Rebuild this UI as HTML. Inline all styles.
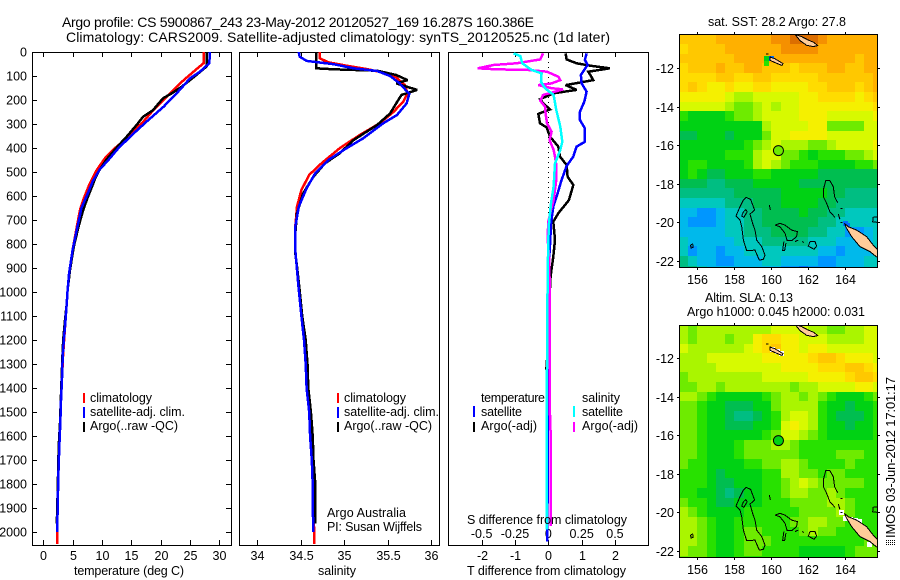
<!DOCTYPE html>
<html>
<head>
<meta charset="utf-8">
<title>Argo profile 5900867_243</title>
<style>
html,body{margin:0;padding:0;background:#fff;}
svg{display:block;font-family:"Liberation Sans",sans-serif;font-size:12.5px;fill:#000;}
text{fill:#000;}
</style>
</head>
<body>
<svg id="chart" xmlns="http://www.w3.org/2000/svg" width="900" height="580" viewBox="0 0 900 580">
<rect x="0" y="0" width="900" height="580" fill="#fff"/>
<g id="marks"></g>

<text x="62" y="27" font-size="14" textLength="472">Argo profile: CS 5900867_243 23-May-2012 20120527_169 16.287S 160.386E</text>
<text x="66" y="42" font-size="14" textLength="544">Climatology: CARS2009. Satellite-adjusted climatology: synTS_20120525.nc (1d later)</text>

<text x="74" y="575" textLength="110">temperature (deg C)</text>
<text x="318" y="575" textLength="38">salinity</text>
<text x="467" y="575" textLength="159">T difference from climatology</text>
<text x="467" y="524" textLength="160">S difference from climatology</text>

<text x="90" y="402" textLength="62">climatology</text>
<text x="90" y="416" textLength="95">satellite-adj. clim.</text>
<text x="90" y="430" textLength="88">Argo(..raw -QC)</text>
<rect x="83" y="393" width="2" height="10" fill="#f00"/>
<rect x="83" y="407" width="2" height="11" fill="#00f"/>
<rect x="83" y="422" width="2" height="10" fill="#000"/>

<text x="344" y="402" textLength="62">climatology</text>
<text x="344" y="416" textLength="95">satellite-adj. clim.</text>
<text x="344" y="430" textLength="88">Argo(..raw -QC)</text>
<rect x="337" y="393" width="2" height="10" fill="#f00"/>
<rect x="337" y="407" width="2" height="11" fill="#00f"/>
<rect x="337" y="422" width="2" height="10" fill="#000"/>

<text x="327" y="517" textLength="79">Argo Australia</text>
<text x="327" y="531" textLength="95">PI: Susan Wijffels</text>

<text x="481" y="402" textLength="64">temperature</text>
<text x="481" y="416" textLength="41">satellite</text>
<text x="481" y="430" textLength="56">Argo(-adj)</text>
<rect x="473" y="406" width="2" height="11" fill="#00f"/>
<rect x="473" y="422" width="2" height="10" fill="#000"/>
<text x="582" y="402" textLength="38">salinity</text>
<text x="582" y="416" textLength="41">satellite</text>
<text x="582" y="430" textLength="56">Argo(-adj)</text>
<rect x="573" y="406" width="2" height="11" fill="#0ff"/>
<rect x="573" y="422" width="2" height="10" fill="#f0f"/>

<text x="708" y="26" textLength="138">sat. SST: 28.2 Argo: 27.8</text>
<text x="705" y="302" textLength="88">Altim. SLA: 0.13</text>
<text x="687" y="316" textLength="178">Argo h1000: 0.045 h2000: 0.031</text>

<text transform="translate(895,538) rotate(-90)" x="0" y="0" font-size="13" textLength="161">IMOS 03-Jun-2012 17:01:17</text>
<g stroke="#000" stroke-width="1" stroke-dasharray="1 1" shape-rendering="crispEdges">
<line x1="886" y1="540.5" x2="895" y2="540.5"/>
<line x1="886" y1="542.5" x2="895" y2="542.5"/>
<line x1="886" y1="544.5" x2="895" y2="544.5"/>
</g>
</svg>

<script>
// ---------- Tick labels ----------
const depthTicks = [0,100,200,300,400,500,600,700,800,900,1000,1100,1200,1300,1400,1500,1600,1700,1800,1900,2000];
const temperatureTicks = [0,5,10,15,20,25,30];
const salinityTicks = [34,34.5,35,35.5,36];
const tDiffTicks = [-2,-1,0,1,2];
const tDiffTickLabels = ["-2","-1","0","1","2"];
const sDiffTicks = [-0.5,-0.25,0,0.25,0.5];
const sDiffTickLabels = ["-0.5","-0.25","0","0.25","0.5"];
const lonTicks = [156,158,160,162,164];
const latTicks = [12,14,16,18,20,22];

// ---------- Temperature profiles ----------
const climTempDepth = [0,47,82,124,172,200,242,297,353,401,443,492,525,561,610,658,742,825,922,992,1050,1130,1200,1270,1350,1463,1547,1644,1769,1894,2000,2050];
const climTempValues = [27.3,27.3,25.6,23.6,21.6,20.5,18.75,16.8,14.5,12.2,10.5,9.1,8.4,7.7,6.9,6.25,5.6,5,4.4,4.15,3.98,3.75,3.55,3.35,3.2,3,2.9,2.72,2.5,2.42,2.35,2.35];
const argoTempDepth = [0,60,96,144,172,193,242,270,304,353,401,450,499,530,568,610,658,728,811,908,992,1050,1130,1200,1270,1350,1463,1547,1644,1769,1894,1964];
const argoTempValues = [27.85,27.85,26.1,23.6,21.9,20.4,18.7,17,15.9,14.2,12.4,10.7,9.4,8.8,8.2,7.5,6.8,6,5.2,4.55,4.15,3.98,3.65,3.4,3.25,3.13,2.96,2.85,2.62,2.5,2.39,2.3];
const satTempDepth = [0,47,82,110,165,228,290,346,401,450,490,540,582,651,742,825,922,992,1050,1130,1200,1270,1350,1463,1547,1644,1769,1894,2000];
const satTempValues = [28.4,28.3,26.7,25,23,20.5,17.6,15.1,12.8,11.1,9.6,8.4,7.7,6.5,5.7,5,4.4,4.15,3.98,3.75,3.5,3.3,3.2,3,2.9,2.72,2.55,2.45,2.35];

// ---------- Salinity profiles ----------
const climSalDepth = [0,26,43,57,71,86,106,138,172,207,249,297,346,401,464,512,575,644,728,825,908,992,1100,1200,1300,1400,1500,1600,1700,1800,1900,2000,2050];
const climSalValues = [34.72,34.72,34.82,35.03,35.26,35.45,35.6,35.7,35.73,35.68,35.57,35.41,35.18,34.95,34.74,34.6,34.51,34.46,34.44,34.44,34.46,34.48,34.51,34.54,34.56,34.57,34.6,34.61,34.63,34.64,34.64,34.66,34.66];
const argoSalDepth = [0,68,72,78,96,117,131,158,179,214,256,304,332,367,422,464,519,589,672,756,839,894,992,1100,1200,1300,1400,1500,1600,1700,1800,1900,1964];
const argoSalValues = [34.68,34.68,34.88,35.38,35.6,35.73,35.6,35.84,35.66,35.6,35.53,35.38,35.26,35.11,34.95,34.78,34.65,34.53,34.46,34.44,34.44,34.46,34.49,34.52,34.56,34.58,34.59,34.62,34.64,34.65,34.67,34.67,34.67];
const satSalDepth = [0,19,37,51,68,79,100,131,175,214,262,297,360,401,450,505,568,644,728,825,908,992,1100,1200,1300,1400,1500,1600,1700,1800,1900,2000];
const satSalValues = [34.48,34.49,34.57,34.88,35.11,35.38,35.53,35.64,35.75,35.72,35.61,35.45,35.22,35.03,34.82,34.67,34.57,34.48,34.44,34.44,34.46,34.48,34.51,34.54,34.56,34.57,34.6,34.61,34.63,34.64,34.64,34.65];

// ---------- Difference profiles ----------
const argoTDiffDepth = [6,31,47,58,68,82,117,126,138,158,172,197,214,239,258,297,314,353,394,436,471,519,554,617,672,707,783,853,922,950,1100,1250,1325];
const argoTDiffValues = [0.52,0.55,0.85,1.3,1.85,1.2,1.35,1.0,0.52,0.85,0.15,-0.25,-0.15,0.05,-0.3,-0.25,-0.05,0.05,0.3,0.35,0.55,0.58,0.75,0.62,0.3,0.15,0.2,0.15,0.08,0.06,0.02,-0.02,-0.06];
const satTDiffDepth = [6,33,54,96,131,165,207,249,283,318,374,394,436,475,533,603,644,714,783,853,950,1300,2040];
const satTDiffValues = [1.15,1.1,1.18,0.98,1.0,1.15,1.08,0.95,0.95,1.1,1.1,0.85,0.75,0.55,0.4,0.25,0.15,0.08,0.06,0.03,0.02,0,-0.03];
const argoSDiffDepth = [6,31,40,47,54,68,72,75,82,103,117,131,138,151,156,169,179,203,228,256,297,332,367,408,436,471,533,617,658,707,776,853,950,1500,1600,1975];
const argoSDiffValues = [-0.04,-0.06,-0.16,-0.24,-0.41,-0.53,-0.39,-0.15,-0.01,0.075,0.09,0.025,-0.075,0.025,0.11,0.025,-0.04,-0.06,-0.025,-0.02,-0.01,0.025,0.01,0.04,0.05,0.06,0.06,0.04,0.02,0,-0.005,0.005,0.01,0.012,0.018,0.02];
const satSDiffDepth = [6,17,47,75,89,124,151,179,242,311,374,408,464,561,631,714,783,950,1325,1990];
const satSDiffValues = [-0.26,-0.21,-0.195,-0.125,-0.05,-0.055,-0.025,0.04,0.06,0.09,0.105,0.09,0.05,0.04,0.02,0.005,0,-0.005,-0.01,-0.012];

// ---------- Map heat values (colour level per 0.5 degree cell, north to south) ----------
const sstGrid = [
[13,13,13,13,14,14,14,14,14,14,15,15,16,16,16,15,14,14,14,14,14,14],
[12,13,13,13,13,14,14,14,14,14,14,15,15,15,15,14,14,14,14,14,14,14],
[13,13,13,13,13,13,14,14,14,14,14,14,14,14,14,14,14,14,14,13,14,14],
[12,13,13,13,14,13,13,14,14,13,13,13,12,13,13,13,14,14,13,13,14,14],
[12,12,12,12,13,13,12,12,13,13,12,12,12,12,12,13,13,13,13,13,13,14],
[12,13,12,11,11,12,11,11,12,12,11,11,11,11,12,12,13,13,13,12,13,14],
[11,11,11,11,11,10,9,9,10,10,10,10,10,11,11,12,12,12,12,11,12,13],
[10,10,10,10,10,9,8,8,9,10,9,10,10,11,11,11,11,11,11,11,11,12],
[7,6,6,6,6,7,8,8,9,10,10,10,10,11,11,11,10,10,10,10,10,11],
[6,6,6,6,6,6,6,6,6,9,10,10,10,10,11,11,8,8,8,8,10,10],
[5,5,6,6,6,5,6,6,6,8,10,10,11,11,11,11,10,10,10,10,10,10],
[6,6,6,6,6,6,6,7,8,9,10,9,9,9,8,8,9,10,10,10,10,11],
[6,6,6,6,6,7,7,7,9,10,10,8,8,7,6,7,7,7,8,8,9,10],
[6,7,7,6,6,6,6,7,9,10,9,8,7,7,7,6,6,6,6,7,7,8],
[6,7,6,5,5,6,6,6,7,7,6,6,6,6,6,5,5,5,5,5,5,5],
[5,5,5,4,4,5,5,5,6,6,6,6,6,5,5,5,5,5,5,5,5,5],
[4,4,4,4,4,4,5,5,5,5,5,6,6,6,6,6,5,5,4,4,4,4],
[3,3,3,3,3,4,4,4,5,5,5,6,6,6,6,5,5,4,4,4,4,4],
[2,2,1,1,2,3,3,4,4,5,5,5,5,6,5,5,4,4,3,3,3,3],
[2,1,1,1,2,3,3,4,4,5,5,5,5,5,5,4,4,3,3,3,3,3],
[2,2,2,2,2,3,3,4,4,4,5,5,5,5,4,4,3,3,1,1,2,3],
[3,2,2,2,2,2,3,3,3,4,4,4,4,4,3,3,3,2,2,2,2,3],
[3,1,2,2,1,2,2,3,3,3,3,3,3,3,3,2,2,1,2,2,2,3],
[4,3,2,2,1,1,2,2,2,3,3,2,2,2,2,1,1,2,2,2,3,3],
[4,4,3,2,2,2,2,2,2,2,2,1,1,0,1,1,1,2,2,2,3,3]
];
const slaGrid = [
[9,8,9,9,9,9,9,9,9,9,10,10,10,10,9,9,8,8,9,9,10,10],
[9,8,9,9,9,8,9,9,11,12,12,11,11,10,10,10,9,9,9,9,10,10],
[10,9,9,9,9,9,9,10,11,12,13,11,11,10,11,11,10,10,10,10,10,10],
[9,9,9,10,10,10,10,10,10,11,11,11,11,11,12,13,13,12,11,11,11,10],
[9,9,9,9,10,10,10,10,10,10,10,11,11,11,11,12,12,12,13,13,12,11],
[8,9,9,9,9,9,9,9,9,10,10,10,10,10,11,11,11,11,12,13,13,12],
[8,8,9,9,8,9,9,9,9,9,9,9,8,9,9,10,10,10,10,11,11,10],
[9,9,8,7,6,6,6,6,6,7,8,9,9,8,9,8,7,6,6,6,7,8],
[8,8,7,6,6,5,5,5,6,6,8,9,9,9,9,7,6,6,5,6,6,7],
[8,8,7,6,6,5,4,4,5,6,7,9,10,10,9,7,6,5,5,5,6,7],
[8,8,7,6,6,5,5,5,6,6,7,10,11,10,9,7,6,6,5,6,6,7],
[8,8,7,6,6,6,6,6,6,7,8,10,10,9,8,7,6,6,6,6,6,7],
[8,8,7,6,6,6,7,8,8,8,9,9,8,7,7,7,7,7,7,7,7,7],
[8,8,7,6,6,6,7,8,8,8,8,8,8,7,7,7,7,8,8,8,7,7],
[8,7,7,6,6,6,6,7,7,8,8,9,9,8,7,7,7,7,8,7,7,7],
[7,7,7,6,5,6,6,6,6,7,7,9,9,8,8,7,8,8,7,7,7,7],
[7,7,7,6,5,5,6,6,6,7,7,8,9,10,9,8,8,8,8,8,7,7],
[7,7,6,6,5,4,5,6,6,7,7,8,9,9,8,8,9,8,7,7,7,7],
[8,7,7,6,5,5,6,6,6,7,7,7,8,8,8,8,9,9,8,7,7,7],
[9,8,7,6,6,6,6,7,7,7,7,7,7,8,8,8,8,9,8,7,7,7],
[9,9,8,7,6,6,7,7,7,7,7,7,8,8,9,9,8,8,7,7,7,7],
[9,9,8,7,6,6,7,8,8,7,7,7,7,8,9,8,8,7,7,7,7,7],
[9,9,8,7,6,6,7,8,8,8,7,7,7,7,7,7,7,7,7,7,8,7],
[9,8,8,7,6,6,7,8,8,7,7,7,7,6,6,6,6,6,7,8,8,8],
[8,8,8,7,6,6,7,7,7,7,7,7,7,6,6,6,6,6,7,8,8,8]
];
const sstOddCells = [[159.62,11.4,6],[159.62,11.65,7],[159.9,11.4,0],[163.9,19.95,0],[164,20.05,0]];
const slaMissingCells = [[159.93,11.41],[160.2,11.55],[160.41,11.62],[163.68,19.89],[163.89,20.18],[164.16,20.24],[164.4,20.29],[164.65,20.37],[165.15,21.53]];

// ---------- Coastlines and reefs (lon, lat) ----------
const filledIslands = [
[[163.95,20.06],[164.16,20.24],[164.61,20.41],[165.15,20.75],[165.51,21.19],[165.73,21.41],[165.9,21.6],[165.9,22],[165.73,21.83],[165.33,21.53],[164.79,21.27],[164.34,20.75],[164.07,20.32]],
[[161.28,10.25],[161.64,10.37],[162,10.55],[162.31,10.67],[162.5,10.84],[162.27,10.89],[161.91,10.82],[161.55,10.58]],
[[159.93,11.43],[160.2,11.52],[160.63,11.77],[160.58,11.87],[160.2,11.72],[159.93,11.6]]
];
const reefOutlines = [
[[158.63,18.71],[158.88,18.82],[159.1,19.37],[158.85,19.58],[158.99,20.06],[159.12,20.41],[159.21,20.93],[159.48,21.27],[159.66,21.71],[159.57,21.93],[159.35,21.97],[159.12,21.45],[158.67,21.48],[158.49,20.93],[158.4,20.24],[158.31,19.89],[158.09,19.68],[158.31,19.2],[158.49,18.85],[158.63,18.71]],
[[158.63,19.34],[158.7,19.46],[158.52,19.75],[158.4,19.68],[158.49,19.46],[158.63,19.34]],
[[163.59,18.99],[163.42,18.68],[163.35,18.16],[163.17,17.85],[162.94,17.85],[162.81,18.33],[162.81,18.68],[162.99,19.02],[163.17,19.46],[163.44,19.75]],
[[163.62,19.58],[163.71,19.85]],
[[163.75,19.28],[163.85,19.28]],
[[163.75,20.03],[163.85,20.03]],
[[160.2,20.15],[160.47,20.06],[160.74,20.15],[161.1,20.41],[161.41,20.49],[161.37,20.75],[161.1,20.96],[160.86,20.96],[160.74,20.58],[160.47,20.24],[160.2,20.15]],
[[160.68,21.01],[160.61,21.48],[160.72,21.48],[160.79,21.08]],
[[162.09,21.01],[162.36,21.01],[162.45,21.24],[162.31,21.41],[162,21.24],[162.09,21.01]],
[[161.28,21.01],[161.46,20.93]],
[[161.68,21.01],[161.75,21.07]],
[[155.64,21.19],[155.75,21.13],[155.78,21.31],[155.66,21.34],[155.64,21.19]],
[[159.89,19.11],[159.95,19.37]],
[[165.9,19.72],[165.5,19.75],[165.48,19.98],[165.9,20.03]],
[[159.71,11.27],[159.86,11.27]]
];
const floatLon = 160.386;
const floatLat = 16.287;
const sstFloatLevel = 8;
const slaFloatLevel = 6;

// ---------- Styles ----------
const levelColors = ["#006eff","#0096ff","#00b9eb","#00c8be","#00be82","#00be50","#00d214","#28e100","#6eeb00","#aaf500","#d7fa00","#f5f000","#ffdc00","#ffc800","#ffb000","#f59000","#dc6e00"];

// ---------- Axis functions ----------
function depthY(d){ return 52 + 0.24 * d; }
function tempX(t){ return 43.3 + 5.867 * t; }
function salX(s){ return 257 + 87 * (s - 34); }
function tDiffX(t){ return 548.3 + 33.3 * t; }
function sDiffX(s){ return 548.3 + 133.3 * s; }
function lonX(lon){ return 697.3 + 18.5 * (lon - 156); }
function latAxis(y12){ return function(lat){ return y12 + 19.27 * (lat - 12); }; }

// ---------- Drawing helpers ----------
const NS = "http://www.w3.org/2000/svg";
const root = document.getElementById("marks");
function make(tag, attrs, parent){
  const el = document.createElementNS(NS, tag);
  for (const k in attrs) el.setAttribute(k, attrs[k]);
  (parent || root).appendChild(el);
  return el;
}
function frame(name, x, y, w, h, parent){
  const el = make("rect", {x:x+0.5, y:y+0.5, width:w, height:h, fill:"none", stroke:"#000", "stroke-width":1, "shape-rendering":"crispEdges"}, parent);
  
  
}
function tick(name, x1, y1, x2, y2){
  const el = make("line", {x1:x1, y1:y1, x2:x2, y2:y2, stroke:"#000", "stroke-width":1, "shape-rendering":"crispEdges"});
  
  
}
function label(name, x, y, str, anchor){
  const el = make("text", {x:x, y:y, "text-anchor":anchor});
  el.textContent = str;
  
  
}
function profile(name, depths, values, xFn, color){
  const pts = depths.map(function(d, i){ return xFn(values[i]).toFixed(1) + "," + depthY(d).toFixed(1); }).join(" ");
  const el = make("polyline", {points:pts, fill:"none", stroke:color, "stroke-width":2.5, "stroke-linejoin":"miter", "stroke-miterlimit":2, "shape-rendering":"crispEdges"});
  
  
}

// ---------- Panel frames ----------
frame("temperature-panel-frame", 32, 52, 199, 493);
frame("salinity-panel-frame", 239, 52, 200, 493);
frame("difference-panel-frame", 448, 52, 200, 493);

// ---------- Depth ticks ----------
depthTicks.forEach(function(d){
  const y = Math.round(depthY(d)) + 0.5;
  tick("depth-tick-left", 32, y, 37, y);
  tick("depth-tick-right", 226, y, 231, y);
  label("depth-tick-label", 27, y + 4, String(d), "end");
});

// ---------- X ticks ----------
temperatureTicks.forEach(function(t){
  const x = Math.round(tempX(t)) + 0.5;
  tick("temperature-tick-bottom", x, 540, x, 545);
  tick("temperature-tick-top", x, 52, x, 57);
  label("temperature-tick-label", x, 560, String(t), "middle");
});
salinityTicks.forEach(function(s){
  const x = Math.round(salX(s)) + 0.5;
  tick("salinity-tick-bottom", x, 540, x, 545);
  tick("salinity-tick-top", x, 52, x, 57);
  label("salinity-tick-label", x, 560, String(s), "middle");
});
tDiffTicks.forEach(function(t, i){
  const x = Math.round(tDiffX(t)) + 0.5;
  tick("t-difference-tick-bottom", x, 540, x, 545);
  tick("t-difference-tick-top", x, 52, x, 57);
  label("t-difference-tick-label", x, 560, tDiffTickLabels[i], "middle");
});
sDiffTicks.forEach(function(s, i){
  label("s-difference-tick-label", sDiffX(s), 538, sDiffTickLabels[i], "middle");
});

// ---------- Temperature series ----------
profile("climatology-temperature-line", climTempDepth, climTempValues, tempX, "#f00");
profile("argo-temperature-line", argoTempDepth, argoTempValues, tempX, "#000");
profile("satellite-temperature-line", satTempDepth, satTempValues, tempX, "#00f");

// ---------- Salinity series ----------
profile("climatology-salinity-line", climSalDepth, climSalValues, salX, "#f00");
profile("argo-salinity-line", argoSalDepth, argoSalValues, salX, "#000");
profile("satellite-salinity-line", satSalDepth, satSalValues, salX, "#00f");

// ---------- Difference series ----------
const zeroLine = make("line", {x1:548.5, y1:52, x2:548.5, y2:depthY(1000), stroke:"#000", "stroke-width":1, "stroke-dasharray":"1 4", "shape-rendering":"crispEdges"});


profile("argo-temperature-difference-line", argoTDiffDepth, argoTDiffValues, tDiffX, "#000");
profile("satellite-temperature-difference-line", satTDiffDepth, satTDiffValues, tDiffX, "#00f");
profile("argo-salinity-difference-line", argoSDiffDepth, argoSDiffValues, sDiffX, "#f0f");
profile("satellite-salinity-difference-line", satSDiffDepth, satSDiffValues, sDiffX, "#0ff");

// ---------- Maps ----------
function drawMap(prefix, grid, specialCells, specialColor, floatLevel, top, bottom, y12, labelY){
  const latY = latAxis(y12);
  const left = 680, right = 877;
  const group = make("g", {});
  
  
  const clip = make("clipPath", {id:prefix + "-clip"}, group);
  make("rect", {x:left, y:top, width:right-left, height:bottom-top}, clip);
  const plot = make("g", {"clip-path":"url(#" + prefix + "-clip)"}, group);

  grid.forEach(function(row, j){
    row.forEach(function(level, i){
      const x0 = lonX(155 + 0.5 * i), x1 = lonX(155.5 + 0.5 * i);
      const y0 = latY(10.25 + 0.5 * j), y1 = latY(10.75 + 0.5 * j);
      const cell = make("rect", {x:Math.round(x0), y:Math.round(y0), width:Math.round(x1)-Math.round(x0), height:Math.round(y1)-Math.round(y0), fill:levelColors[level], "shape-rendering":"crispEdges"}, plot);
      
      
    });
  });
  specialCells.forEach(function(c){
    const spot = make("rect", {x:Math.round(lonX(c[0])), y:Math.round(latY(c[1])), width:5, height:5, fill:(c.length > 2 ? levelColors[c[2]] : specialColor), "shape-rendering":"crispEdges"}, plot);
    
    
  });
  filledIslands.forEach(function(poly){
    const pts = poly.map(function(p){ return lonX(p[0]).toFixed(1) + "," + latY(p[1]).toFixed(1); }).join(" ");
    const island = make("polygon", {points:pts, fill:"#ffcc99", stroke:"#000", "stroke-width":1, "shape-rendering":"crispEdges"}, plot);
    
    
  });
  reefOutlines.forEach(function(line){
    const pts = line.map(function(p){ return lonX(p[0]).toFixed(1) + "," + latY(p[1]).toFixed(1); }).join(" ");
    const reef = make("polyline", {points:pts, fill:"none", stroke:"#000", "stroke-width":1, "shape-rendering":"crispEdges"}, plot);
    
    
  });
  const marker = make("circle", {cx:lonX(floatLon), cy:latY(floatLat), r:5, fill:levelColors[floatLevel], stroke:"#000", "stroke-width":1}, plot);
  
  

  frame(prefix + "-map-frame", left - 1, top - 1, right - left + 1, bottom - top + 1, group);

  lonTicks.forEach(function(lon){
    const x = Math.round(lonX(lon)) + 0.5;
    tick(prefix + "-lon-tick-top", x, top - 3, x, top);
    tick(prefix + "-lon-tick-bottom", x, bottom, x, bottom + 3);
    label(prefix + "-lon-tick-label", x, labelY, String(lon), "middle");
  });
  latTicks.forEach(function(lat){
    const y = Math.round(latY(lat)) + 0.5;
    tick(prefix + "-lat-tick-left", left - 3, y, left, y);
    tick(prefix + "-lat-tick-right", right, y, right + 3, y);
    label(prefix + "-lat-tick-label", 674, y + 4.5, "-" + String(lat), "end");
  });
}
drawMap("sst", sstGrid, sstOddCells, levelColors[0], sstFloatLevel, 35, 267, 68, 284);
drawMap("sla", slaGrid, slaMissingCells, "#fff", slaFloatLevel, 326, 557, 358, 574);
</script>
</body>
</html>
